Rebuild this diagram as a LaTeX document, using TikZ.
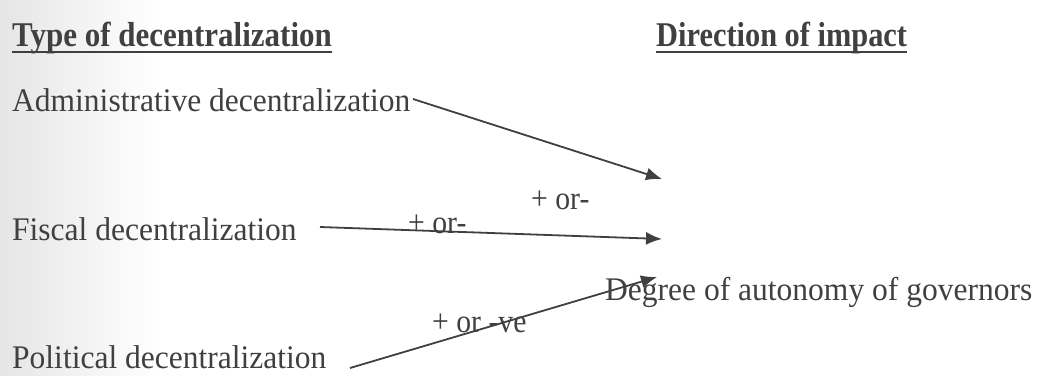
\documentclass[tikz,border=0pt]{standalone}
\usepackage{fontspec}
\setmainfont{Liberation Serif}
\usetikzlibrary{arrows.meta}
\definecolor{ink}{HTML}{404040}
\begin{document}
\begin{tikzpicture}[x=1pt,y=-1pt,
  txt/.style={inner sep=0pt,anchor=base west,font=\fontsize{33}{36}\selectfont,text=ink},
  head/.style={inner sep=0pt,anchor=base west,font=\fontsize{31}{34}\selectfont\bfseries,text=ink},
  uline/.style={draw=ink,line width=2.2pt},
  arr/.style={draw=ink,line width=1.8pt,-{Latex[length=16pt,width=13pt]}}]
\useasboundingbox (0,0) rectangle (1047,375);
\shade[left color=black!10,right color=white,draw=none] (0,0) rectangle (160,375);
\node[head] (h1) at (12,46) {\scalebox{1.0}[1.12]{Type of decentralization}};
\node[head] (h2) at (656,46) {\scalebox{0.98}[1.12]{Direction of impact}};
\draw[uline] ([yshift=-6pt]h1.base west) -- ([yshift=-6pt]h1.base east);
\draw[uline] ([yshift=-6pt]h2.base west) -- ([yshift=-6pt]h2.base east);
\node[txt] (adm) at (12,111) {\scalebox{0.955}[1]{Administrative decentralization}};
\node[txt] (fis) at (12,240) {\scalebox{0.955}[1]{Fiscal decentralization}};
\node[txt] (pol) at (12,368) {\scalebox{0.955}[1]{Political decentralization}};
\node[txt] (deg) at (605,300) {\scalebox{0.955}[1]{Degree of autonomy of governors}};
\coordinate (a1s) at (413,99);
\coordinate (a1e) at (662,179);
\coordinate (a2s) at (320,227);
\coordinate (a2e) at (662,239);
\coordinate (a3s) at (350,368);
\coordinate (a3e) at (657,277);
\draw[arr] (a1s) -- (a1e);
\draw[arr] (a2s) -- (a2e);
\draw[arr] (a3s) -- (a3e);
\node[txt] (l1) at (531,209) {\scalebox{0.9}[1]{+ or-}};
\node[txt] (l2) at (408,233) {\scalebox{0.9}[1]{+ or-}};
\node[txt] (l3) at (432,332) {\scalebox{0.9}[1]{+ or -ve}};
\end{tikzpicture}
\end{document}
